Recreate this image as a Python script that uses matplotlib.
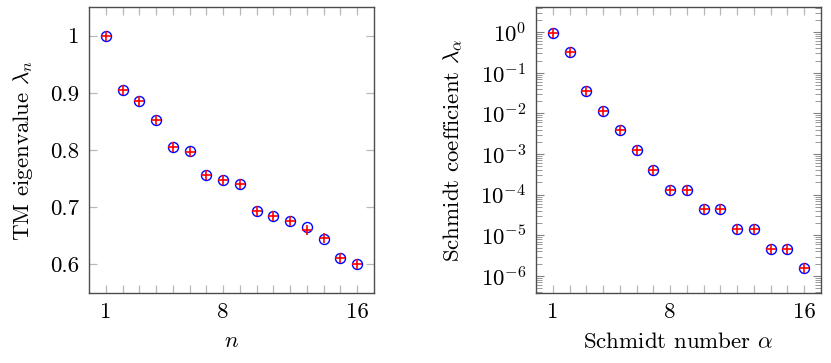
import matplotlib
matplotlib.use("Agg")
import matplotlib.pyplot as plt
from matplotlib.ticker import FixedLocator, FixedFormatter, LogLocator, LogFormatterMathtext, NullFormatter

plt.rcParams['font.family'] = 'serif'
plt.rcParams['font.serif'] = ['cmr10', 'DejaVu Serif']
plt.rcParams['mathtext.fontset'] = 'cm'
plt.rcParams['axes.formatter.use_mathtext'] = True
plt.rcParams['font.size'] = 16.5

# Data
n = list(range(1, 17))
tm_circle = [1.000, 0.905, 0.885, 0.8525, 0.805, 0.798, 0.757, 0.748, 0.741,
             0.694, 0.6845, 0.675, 0.665, 0.645, 0.611, 0.600]
tm_plus = [1.000, 0.905, 0.885, 0.8525, 0.805, 0.797, 0.757, 0.748, 0.741,
           0.694, 0.6845, 0.675, 0.661, 0.647, 0.611, 0.600]
schmidt_circle = [0.93, 0.322, 0.0352, 0.01155, 0.00386, 0.00124, 4.07e-4, 1.34e-4,
                  1.34e-4, 4.47e-5, 4.47e-5, 1.44e-5, 1.44e-5, 4.71e-6, 4.71e-6, 1.55e-6]
schmidt_plus = list(schmidt_circle)

x_ticks = [1, 8, 16]
x_ticklabels = ['1', '8', '16']
y_ticks_left = [0.6, 0.7, 0.8, 0.9, 1.0]
y_ticklabels_left = ['0.6', '0.7', '0.8', '0.9', '1']

fig = plt.figure(figsize=(8.31, 3.63), dpi=100)
W, H = 831, 363
def rect(x0, x1, y0, y1):
    return [x0 / W, 1 - y1 / H, (x1 - x0) / W, (y1 - y0) / H]

ax1 = fig.add_axes(rect(89, 374, 7, 293))
ax2 = fig.add_axes(rect(536, 821, 7, 293))

def style(ax):
    for s in ax.spines.values():
        s.set_color('0.3')
        s.set_linewidth(1.0)
    ax.tick_params(which='major', direction='in', top=True, right=True,
                   length=6, width=0.9, color='0.72', pad=7)
    ax.tick_params(which='minor', direction='in', top=True, right=True,
                   length=6, width=0.9, color='0.72')
    ax.set_xlim(0, 17)
    ax.xaxis.set_major_locator(FixedLocator(x_ticks))
    ax.xaxis.set_major_formatter(FixedFormatter(x_ticklabels))
    ax.xaxis.set_minor_locator(FixedLocator([v for v in n if v not in x_ticks]))

def plot_pts(ax, yc, yp):
    ax.plot(n, yc, linestyle='none', marker='o', markersize=7.2,
            markerfacecolor='none', markeredgecolor='blue', markeredgewidth=1.0, zorder=3)
    ax.plot(n, yp, linestyle='none', marker='+', markersize=7.0,
            color='red', markeredgewidth=1.2, zorder=4)

style(ax1)
plot_pts(ax1, tm_circle, tm_plus)
ax1.set_ylim(0.55, 1.05)
ax1.yaxis.set_major_locator(FixedLocator(y_ticks_left))
ax1.yaxis.set_major_formatter(FixedFormatter(y_ticklabels_left))
ax1.set_xlabel(r'$n$')
ax1.set_ylabel(r'TM eigenvalue $\lambda_n$')
ax1.yaxis.set_label_coords(-0.19, 0.5)
ax1.xaxis.set_label_coords(0.5, -0.136)

style(ax2)
plot_pts(ax2, schmidt_circle, schmidt_plus)
ax2.set_yscale('log')
ax2.set_ylim(10 ** -6.42, 10 ** 0.62)
ax2.yaxis.set_major_locator(LogLocator(base=10, numticks=20))
ax2.yaxis.set_major_formatter(LogFormatterMathtext())
ax2.yaxis.set_minor_locator(LogLocator(base=10, subs=range(2, 10), numticks=20))
ax2.yaxis.set_minor_formatter(NullFormatter())
ax2.tick_params(axis='y', which='minor', length=4, color='0.6', width=0.7)
ax2.tick_params(axis='y', which='major', length=6, color='0.5', width=0.8)
ax2.set_xlabel(r'Schmidt number $\alpha$')
ax2.set_ylabel(r'Schmidt coefficient $\lambda_\alpha$')
ax2.yaxis.set_label_coords(-0.25, 0.5)
ax2.xaxis.set_label_coords(0.5, -0.136)

fig.savefig('out.png', dpi=100)
